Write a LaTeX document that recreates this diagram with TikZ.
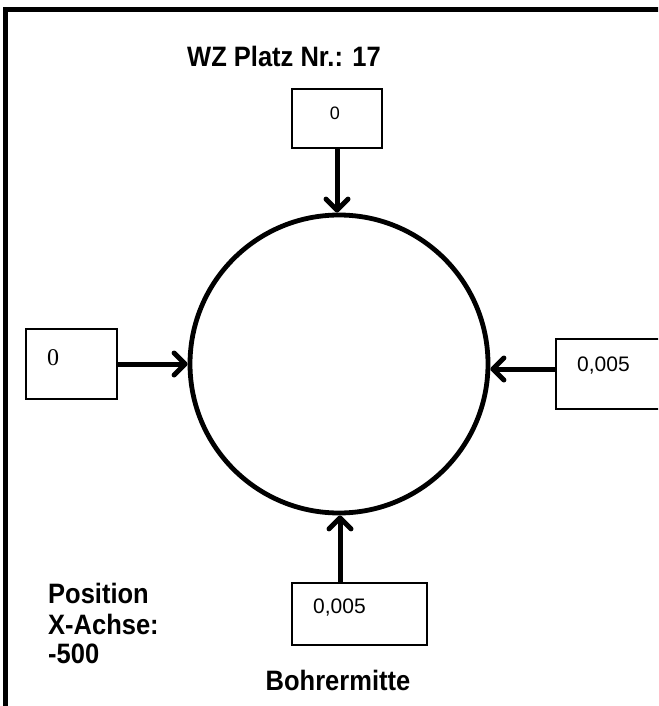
\documentclass[tikz,border=0pt]{standalone}
\usepackage{fontspec}
\setmainfont{Liberation Sans}
\newfontfamily\serifnum{Liberation Serif}
\usetikzlibrary{arrows.meta}
\newcommand{\tallbold}[1]{\scalebox{1}[1.1]{#1}}
\begin{document}
\begin{tikzpicture}[x=1pt,y=-1pt,
  box/.style={draw,line width=1.3pt,inner sep=0pt},
  arr/.style={line width=5pt,-{Straight Barb[length=11pt,width=22pt,round]}},
  lab/.style={inner sep=0pt,font=\fontsize{25.5}{30}\selectfont\bfseries},
  val/.style={inner sep=0pt,font=\fontsize{21}{24}\selectfont}]
\clip (0,0) rectangle (658,706);
\fill[white] (0,0) rectangle (658,706);
% frame
\draw[line width=5pt] (5.5,720) -- (5.5,10) -- (670,10);
% circle
\node[circle,draw,line width=4.8pt,minimum size=298pt,inner sep=0pt] (circ) at (339,364) {};
% boxes
\node[box,minimum width=90pt,minimum height=59pt] (tbox) at (337,118.5) {};
\node[box,minimum width=91pt,minimum height=70pt] (lbox) at (71.5,364) {};
\node[box,minimum width=110pt,minimum height=70pt] (rbox) at (611,374) {};
\node[box,minimum width=135pt,minimum height=62pt] (bbox) at (359.5,614) {};
% box texts
\node[inner sep=0pt,anchor=base,font=\fontsize{18}{20}\selectfont] (tval) at (335,120) {0};
\node[inner sep=0pt,anchor=base,font=\serifnum\fontsize{24}{26}\selectfont] (lval) at (53,365) {0};
\node[val,anchor=base west] (rval) at (577,371) {0,005};
\node[val,anchor=base west] (bval) at (313,613) {0,005};
% arrows
\draw[arr] (tbox.south) -- (tbox.south |- circ.north);
\draw[arr] (lbox.east) -- (lbox.east -| circ.west);
\draw[arr] ([yshift=5pt]rbox.west) -- ([yshift=5pt]rbox.west -| circ.east);
\draw[arr] ([xshift=-19.5pt]bbox.north) -- ([xshift=-19.5pt]bbox.north |- circ.south);
% labels
\node[lab,anchor=base west] (title) at (187,67) {\tallbold{WZ Platz Nr.: 17}};
\node[lab,anchor=base west] (pos1) at (48,603) {\tallbold{Position}};
\node[lab,anchor=base west] (pos2) at (48,634) {\tallbold{X-Achse:}};
\node[lab,anchor=base west] (pos3) at (48,663) {\tallbold{-500}};
\node[lab,anchor=base] (bm) at (338,690) {\tallbold{Bohrermitte}};
\end{tikzpicture}
\end{document}
